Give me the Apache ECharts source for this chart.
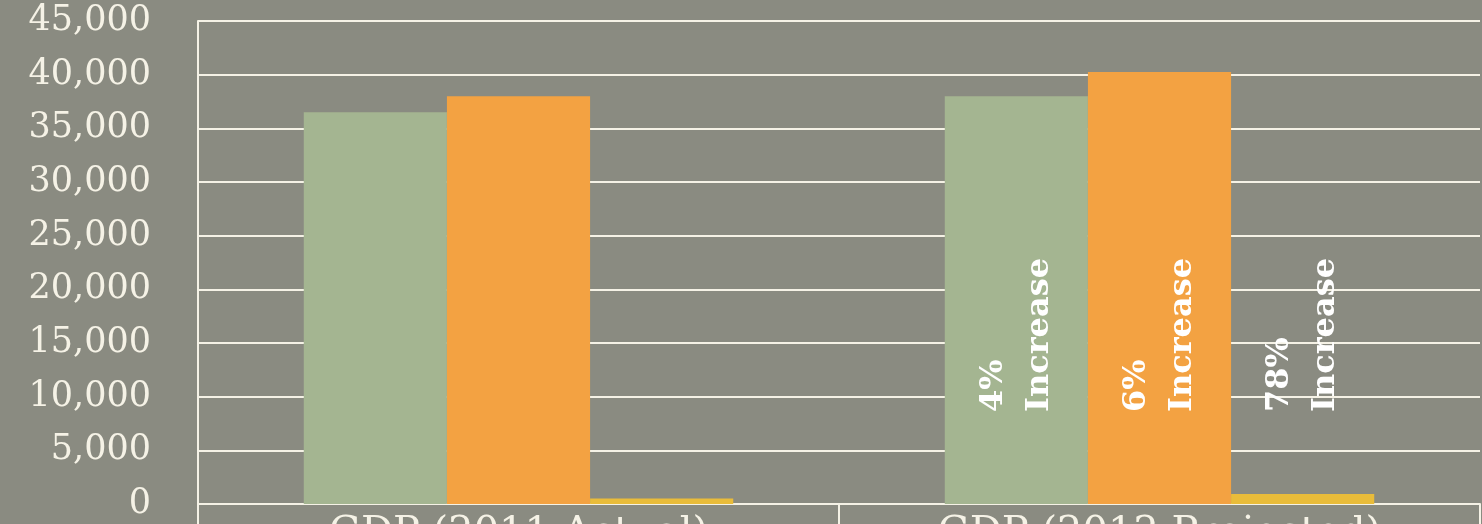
<!DOCTYPE html>
<html>
<head>
<meta charset="utf-8">
<style>
  html, body { margin: 0; padding: 0; background: #8a8b81; }
  #chart { width: 1482px; height: 524px; }
</style>
<script src="https://cdn.jsdelivr.net/npm/echarts@6/dist/echarts.min.js"></script>
</head>
<body>
<div id="chart"></div>
<script>
var categories = ['GDP (2011 Actual)', 'GDP (2012 Projected)'];
var greenValues = [36500, 38000];
var orangeValues = [38000, 40250];
var yellowValues = [520, 925];
var increaseLabels = {
  green: ['', '4%'],
  orange: ['', '6%'],
  yellow: ['', '78%']
};
var yTicks = { min: 0, max: 45000, interval: 5000 };

var ink = '#f5f2e6';
var chart = echarts.init(document.getElementById('chart'));

function barLabel(texts) {
  return {
    show: true,
    position: 'insideBottom',
    distance: 92,
    rotate: 90,
    align: 'left',
    verticalAlign: 'middle',
    color: '#ffffff',
    fontFamily: 'DejaVu Serif',
    fontWeight: 'bold',
    fontSize: 32,
    lineHeight: 46,
    formatter: function(p) {
      var t = texts[p.dataIndex];
      return t ? t + '\nIncrease' : '';
    }
  };
}

chart.setOption({
  animation: false,
  backgroundColor: '#8a8b81',
  grid: { left: 198, right: 2, top: 21, bottom: 20, outerBoundsMode: 'none', containLabel: false },
  xAxis: {
    type: 'category',
    data: categories,
    axisLine: { lineStyle: { color: ink, width: 2 } },
    axisTick: { show: true, length: 30, lineStyle: { color: ink, width: 2 } },
    axisLabel: { color: ink, fontFamily: 'DejaVu Serif', fontSize: 40, margin: 10 }
  },
  yAxis: {
    type: 'value',
    min: yTicks.min, max: yTicks.max, interval: yTicks.interval,
    axisLine: { show: true, lineStyle: { color: ink, width: 2 } },
    axisTick: { show: false },
    splitLine: { lineStyle: { color: ink, width: 2 } },
    axisLabel: {
      color: ink, fontFamily: 'DejaVu Serif', fontSize: 35, margin: 47,
      formatter: function(v) { return v.toLocaleString('en-US'); }
    }
  },
  series: [
    {
      type: 'bar', data: greenValues, barGap: 0, barCategoryGap: '33%',
      itemStyle: { color: '#a4b591' }, label: barLabel(increaseLabels.green)
    },
    {
      type: 'bar', data: orangeValues, barGap: 0, barCategoryGap: '33%',
      itemStyle: { color: '#f3a242' }, label: barLabel(increaseLabels.orange)
    },
    {
      type: 'bar', data: yellowValues, barGap: 0, barCategoryGap: '33%',
      itemStyle: { color: '#e9bc3a' }, label: barLabel(increaseLabels.yellow)
    }
  ]
});
</script>
</body>
</html>
